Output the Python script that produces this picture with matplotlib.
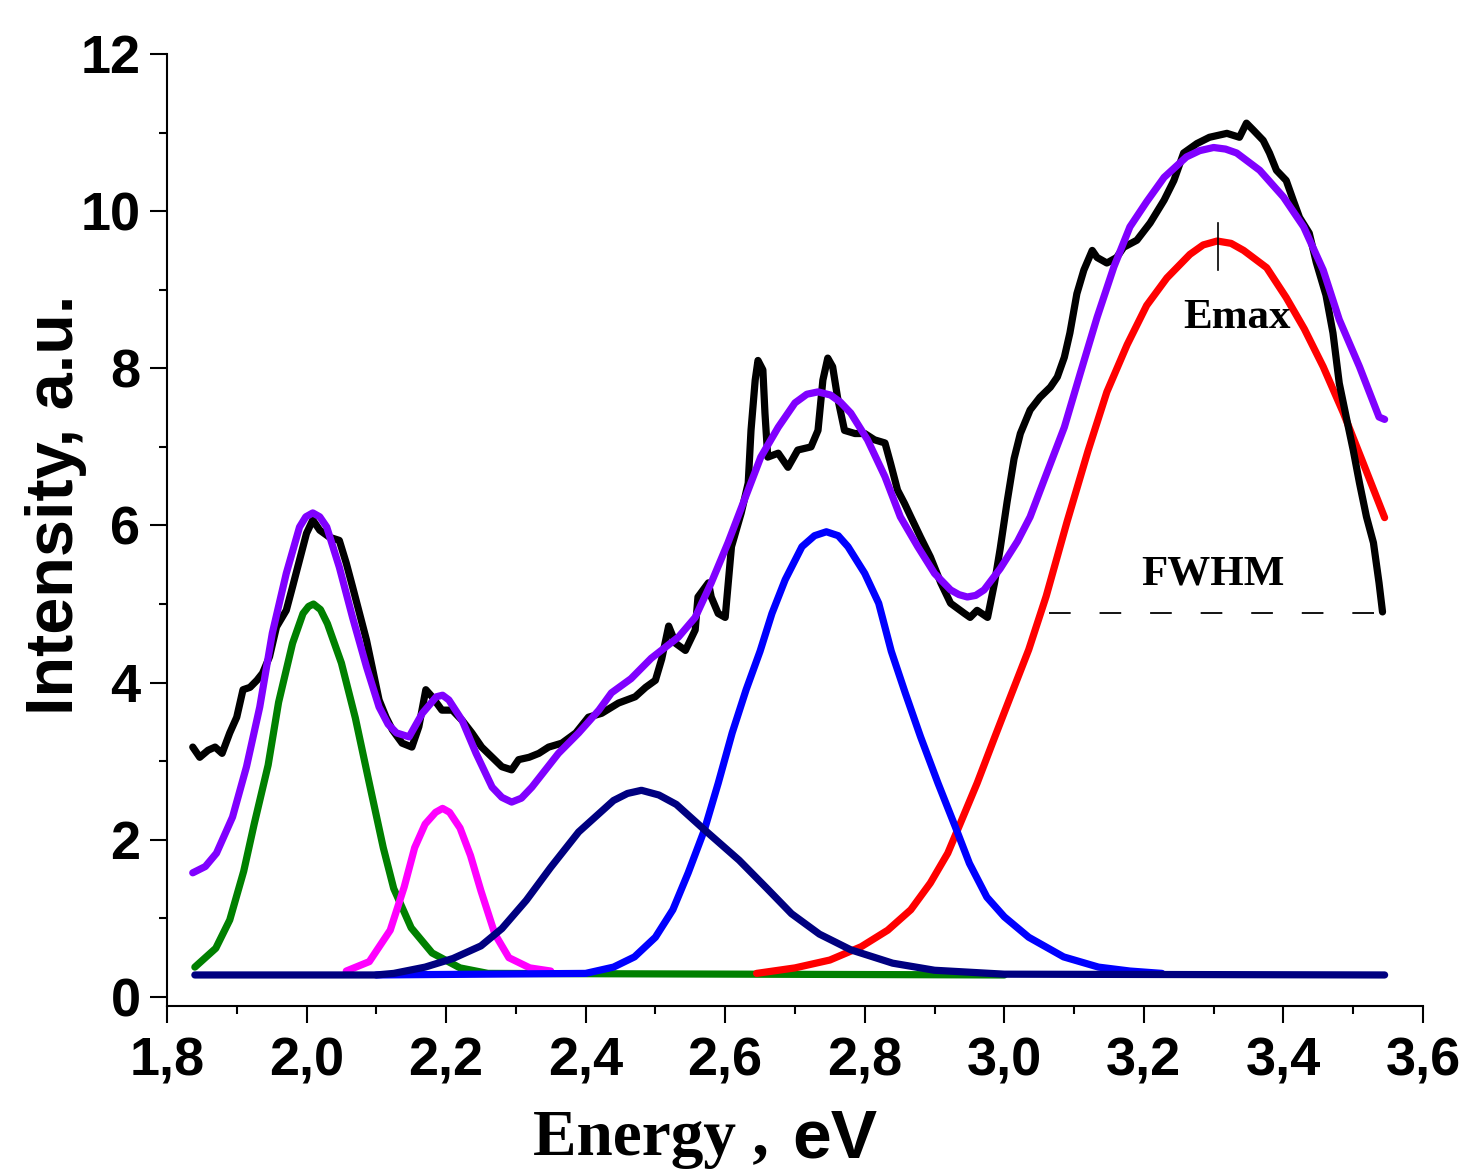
import matplotlib
matplotlib.use("Agg")
import matplotlib.pyplot as plt

# measured spectrum (black)
data_x = [1.837, 1.847, 1.859, 1.869, 1.879, 1.890, 1.900, 1.909, 1.919, 1.929, 1.937, 1.947,
          1.957, 1.971, 1.980, 1.990, 2.000, 2.009, 2.019, 2.033, 2.047, 2.057, 2.066, 2.076,
          2.086, 2.094, 2.104, 2.114, 2.123, 2.137, 2.151, 2.161, 2.171, 2.180, 2.194, 2.209,
          2.223, 2.237, 2.251, 2.266, 2.280, 2.294, 2.304, 2.319, 2.333, 2.347, 2.366, 2.386,
          2.404, 2.423, 2.447, 2.471, 2.486, 2.500, 2.509, 2.519, 2.529, 2.543, 2.557, 2.561,
          2.576, 2.580, 2.590, 2.600, 2.609, 2.623, 2.633, 2.637, 2.643, 2.647, 2.654, 2.657,
          2.661, 2.676, 2.690, 2.704, 2.723, 2.733, 2.740, 2.747, 2.754, 2.761, 2.771, 2.786,
          2.800, 2.814, 2.829, 2.837, 2.847, 2.857, 2.866, 2.880, 2.894, 2.909, 2.923, 2.943,
          2.951, 2.961, 2.976, 2.986, 2.994, 3.004, 3.014, 3.023, 3.037, 3.051, 3.066, 3.076,
          3.086, 3.094, 3.104, 3.114, 3.126, 3.133, 3.147, 3.161, 3.171, 3.190, 3.209, 3.229,
          3.243, 3.257, 3.276, 3.294, 3.319, 3.337, 3.347, 3.357, 3.371, 3.380, 3.390, 3.404,
          3.414, 3.423, 3.437, 3.447, 3.461, 3.471, 3.480, 3.490, 3.500, 3.509, 3.519, 3.529,
          3.537, 3.542]
data_y = [3.18, 3.05, 3.14, 3.18, 3.10, 3.36, 3.56, 3.91, 3.94, 4.03, 4.12, 4.33,
          4.71, 4.92, 5.22, 5.56, 5.90, 6.07, 5.94, 5.85, 5.81, 5.52, 5.22, 4.88,
          4.54, 4.20, 3.78, 3.56, 3.40, 3.23, 3.18, 3.44, 3.91, 3.82, 3.65, 3.65,
          3.52, 3.36, 3.18, 3.05, 2.93, 2.89, 3.02, 3.05, 3.10, 3.18, 3.23, 3.36,
          3.56, 3.61, 3.74, 3.82, 3.94, 4.03, 4.30, 4.72, 4.50, 4.41, 4.67, 5.09,
          5.27, 5.09, 4.88, 4.83, 5.73, 6.16, 6.54, 7.21, 7.85, 8.10, 7.98, 7.43,
          6.87, 6.92, 6.74, 6.96, 7.00, 7.21, 7.85, 8.13, 8.02, 7.63, 7.21, 7.17,
          7.17, 7.09, 7.05, 6.79, 6.45, 6.28, 6.11, 5.85, 5.60, 5.27, 5.01, 4.88,
          4.83, 4.92, 4.83, 5.27, 5.70, 6.30, 6.85, 7.17, 7.47, 7.63, 7.76, 7.89,
          8.14, 8.45, 8.95, 9.25, 9.50, 9.41, 9.34, 9.41, 9.54, 9.63, 9.85, 10.14,
          10.39, 10.74, 10.86, 10.94, 10.99, 10.94, 11.12, 11.03, 10.90, 10.74, 10.52, 10.39,
          10.14, 9.92, 9.72, 9.35, 8.93, 8.45, 7.81, 7.38, 6.96, 6.54, 6.11, 5.78,
          5.27, 4.90]

# cumulative fit (violet)
fit_x = [1.837, 1.855, 1.871, 1.894, 1.914, 1.933, 1.951, 1.971, 1.990, 1.999, 2.009, 2.019,
         2.029, 2.047, 2.066, 2.086, 2.104, 2.117, 2.129, 2.147, 2.166, 2.186, 2.195, 2.204,
         2.223, 2.243, 2.266, 2.280, 2.294, 2.308, 2.323, 2.361, 2.390, 2.419, 2.437, 2.465,
         2.494, 2.533, 2.557, 2.580, 2.604, 2.629, 2.651, 2.676, 2.700, 2.717, 2.733, 2.751,
         2.765, 2.780, 2.804, 2.829, 2.851, 2.876, 2.900, 2.923, 2.935, 2.947, 2.959, 2.971,
         2.994, 3.019, 3.037, 3.061, 3.086, 3.109, 3.133, 3.157, 3.180, 3.204, 3.229, 3.261,
         3.280, 3.300, 3.317, 3.333, 3.366, 3.400, 3.429, 3.457, 3.480, 3.509, 3.537, 3.545]
fit_y = [1.58, 1.66, 1.83, 2.29, 2.93, 3.69, 4.63, 5.39, 5.98, 6.11, 6.16, 6.11,
         5.98, 5.47, 4.83, 4.20, 3.69, 3.47, 3.36, 3.31, 3.61, 3.82, 3.84, 3.78,
         3.52, 3.10, 2.67, 2.54, 2.48, 2.53, 2.67, 3.10, 3.36, 3.65, 3.87, 4.05,
         4.31, 4.58, 4.83, 5.27, 5.78, 6.36, 6.87, 7.25, 7.56, 7.67, 7.70, 7.66,
         7.57, 7.43, 7.09, 6.62, 6.11, 5.73, 5.39, 5.18, 5.12, 5.09, 5.11, 5.18,
         5.45, 5.80, 6.11, 6.67, 7.25, 7.94, 8.65, 9.29, 9.80, 10.12, 10.43, 10.69,
         10.77, 10.81, 10.79, 10.74, 10.52, 10.18, 9.80, 9.25, 8.62, 8.02, 7.38, 7.35]

# fitted components
green_x = [1.84, 1.87, 1.89, 1.91, 1.925, 1.945, 1.96, 1.98, 1.995, 2.003, 2.01, 2.02,
           2.03, 2.05, 2.07, 2.09, 2.11, 2.125, 2.15, 2.18, 2.22, 2.26, 3.0]
green_y = [0.38, 0.62, 0.98, 1.6, 2.2, 2.95, 3.75, 4.5, 4.88, 4.97, 5.0, 4.93,
           4.75, 4.25, 3.55, 2.72, 1.9, 1.38, 0.88, 0.56, 0.37, 0.30, 0.28]

magenta_x = [2.057, 2.09, 2.12, 2.14, 2.155, 2.17, 2.185, 2.195, 2.205, 2.22, 2.235, 2.25,
             2.27, 2.29, 2.32, 2.35]
magenta_y = [0.33, 0.45, 0.85, 1.4, 1.9, 2.2, 2.35, 2.40, 2.35, 2.15, 1.8, 1.35,
             0.8, 0.5, 0.37, 0.33]

navy_x = [1.84, 2.10, 2.125, 2.17, 2.21, 2.25, 2.28, 2.315, 2.35, 2.39, 2.44, 2.46,
          2.48, 2.505, 2.53, 2.57, 2.62, 2.66, 2.695, 2.735, 2.78, 2.84, 2.90, 3.0, 3.545]
navy_y = [0.28, 0.28, 0.30, 0.38, 0.49, 0.65, 0.87, 1.23, 1.65, 2.1, 2.5, 2.59,
          2.63, 2.57, 2.45, 2.13, 1.74, 1.38, 1.06, 0.80, 0.60, 0.43, 0.34, 0.29, 0.28]

blue_x = [2.10, 2.40, 2.44, 2.47, 2.50, 2.525, 2.547, 2.57, 2.59, 2.61, 2.63, 2.65,
          2.667, 2.686, 2.71, 2.728, 2.745, 2.762, 2.776, 2.80, 2.82, 2.838, 2.858, 2.88,
          2.905, 2.93, 2.95, 2.975, 3.0, 3.035, 3.085, 3.135, 3.18, 3.226]
blue_y = [0.28, 0.30, 0.38, 0.51, 0.76, 1.11, 1.58, 2.12, 2.72, 3.36, 3.91, 4.4,
          4.88, 5.31, 5.73, 5.87, 5.92, 5.87, 5.73, 5.39, 5.01, 4.4, 3.87, 3.31,
          2.72, 2.16, 1.70, 1.27, 1.02, 0.76, 0.51, 0.38, 0.33, 0.30]

red_x = [2.645, 2.70, 2.75, 2.795, 2.833, 2.866, 2.894, 2.919, 2.937, 2.961, 2.986, 3.01,
         3.035, 3.06, 3.09, 3.12, 3.147, 3.176, 3.204, 3.233, 3.266, 3.285, 3.305, 3.325,
         3.343, 3.376, 3.404, 3.43, 3.457, 3.486, 3.514, 3.545]
red_y = [0.30, 0.37, 0.47, 0.64, 0.85, 1.11, 1.45, 1.83, 2.21, 2.72, 3.3, 3.85,
         4.42, 5.1, 6.05, 6.95, 7.7, 8.3, 8.8, 9.15, 9.45, 9.57, 9.62, 9.59,
         9.5, 9.28, 8.9, 8.5, 8.02, 7.43, 6.8, 6.1]

# annotations
emax_x = 3.306
emax_y = [9.25, 9.85]
fwhm_x = [3.064, 3.569]
fwhm_y = 4.88

x_ticks = [1.8, 2.0, 2.2, 2.4, 2.6, 2.8, 3.0, 3.2, 3.4, 3.6]
x_labels = ["1,8", "2,0", "2,2", "2,4", "2,6", "2,8", "3,0", "3,2", "3,4", "3,6"]
y_ticks = [0, 2, 4, 6, 8, 10, 12]

sans = "Liberation Sans"
serif = "Liberation Serif"

fig = plt.figure(figsize=(14.67, 11.71), dpi=100)
ax = fig.add_axes([0.1138, 0.1409, 0.8562, 0.8130])

lw = 5.2
style = dict(lw=lw, solid_joinstyle="round", solid_capstyle="round")
ax.plot(green_x, green_y, color="#008000", zorder=2, **style)
ax.plot(magenta_x, magenta_y, color="#FF00FF", zorder=2, **style)
ax.plot(red_x, red_y, color="#FF0000", zorder=2, **style)
ax.plot(blue_x, blue_y, color="#0000FF", zorder=3, **style)
ax.plot(navy_x, navy_y, color="#000080", zorder=4, **style)
ax.plot(data_x, data_y, color="black", zorder=5, **style)
ax.plot(fit_x, fit_y, color="#8000FF", zorder=6, **style)

ax.plot([emax_x, emax_x], emax_y, color="black", lw=1.2, zorder=7)
ax.plot(fwhm_x, [fwhm_y, fwhm_y], color="black", lw=1.3, dashes=(12, 16), zorder=1)
ax.text(3.333, 8.64, "Emax", fontfamily=serif, fontweight="bold", fontsize=31,
        ha="center", va="center", zorder=8)
ax.text(3.299, 5.37, "FWHM", fontfamily=serif, fontweight="bold", fontsize=31,
        ha="center", va="center", zorder=8)

ax.set_xlim(1.8, 3.6)
ax.set_ylim(-0.115, 12)
ax.spines["top"].set_visible(False)
ax.spines["right"].set_visible(False)
for s in ("left", "bottom"):
    ax.spines[s].set_linewidth(1.5)

ax.set_xticks(x_ticks)
ax.set_xticklabels(x_labels)
ax.set_xticks([1.9, 2.1, 2.3, 2.5, 2.7, 2.9, 3.1, 3.3, 3.5], minor=True)
ax.set_yticks(y_ticks)
ax.set_yticks([1, 3, 5, 7, 9, 11], minor=True)
ax.tick_params(which="major", direction="out", length=12, width=1.5)
ax.tick_params(which="minor", direction="out", length=6, width=1.5)
ax.tick_params(axis="x", which="major", pad=10)
ax.tick_params(axis="y", which="major", pad=7)
for lab in ax.get_xticklabels() + ax.get_yticklabels():
    lab.set_fontfamily(sans)
    lab.set_fontweight("bold")
    lab.set_fontsize(39)

fig.text(56 / 1467, 1 - 505 / 1171, "Intensity, a.u.", rotation=90, fontfamily=sans,
         fontweight="bold", fontsize=48, ha="center", va="center")
fig.text(533 / 1467, 1 - 1155 / 1171, "Energy ,", fontfamily=serif, fontweight="bold",
         fontsize=47, ha="left", va="baseline")
fig.text(792 / 1467, 1 - 1157 / 1171, "eV", fontfamily=sans, fontweight="bold",
         fontsize=50, ha="left", va="baseline")

fig.savefig("out.png", dpi=100)
